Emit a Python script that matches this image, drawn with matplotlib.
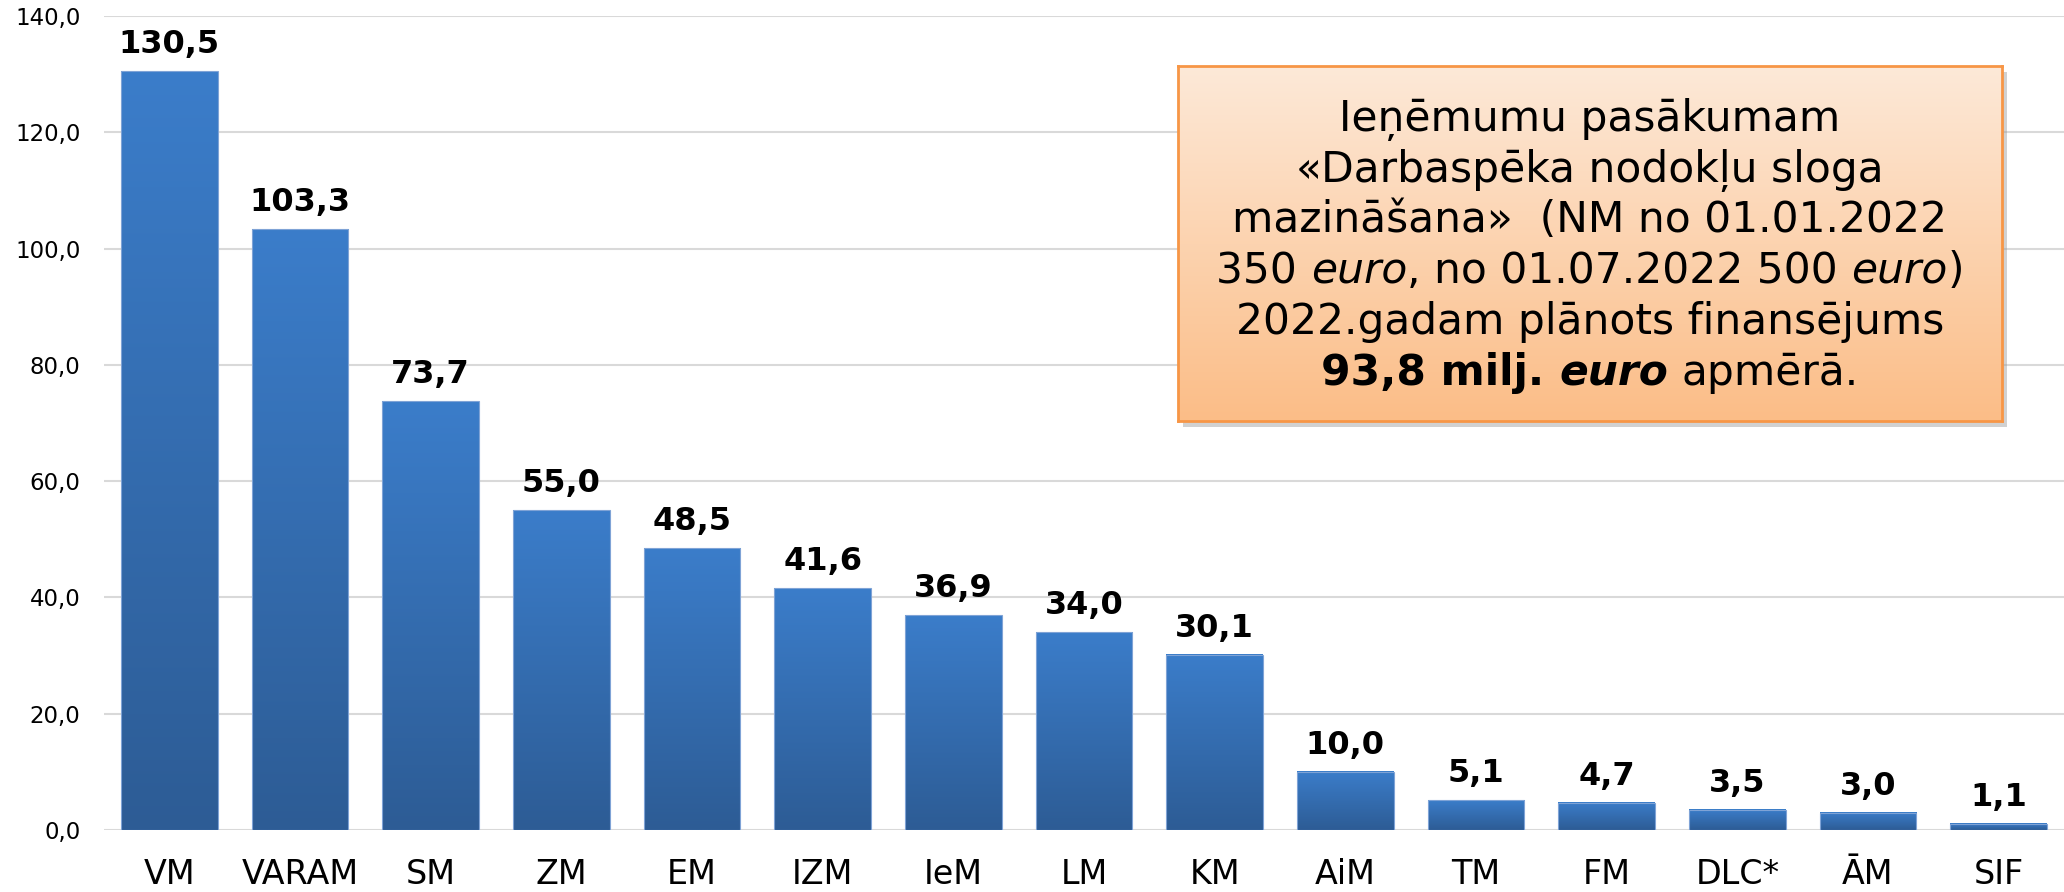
import matplotlib.pyplot as plt
import numpy as np
from matplotlib.colors import LinearSegmentedColormap
from matplotlib.patches import Rectangle

labels = ['VM', 'VARAM', 'SM', 'ZM', 'EM', 'IZM', 'IeM', 'LM', 'KM',
          'AiM', 'TM', 'FM', 'DLC*', 'ĀM', 'SIF']
values = [130.5, 103.3, 73.7, 55.0, 48.5, 41.6, 36.9, 34.0, 30.1,
          10.0, 5.1, 4.7, 3.5, 3.0, 1.1]
yticks = [0, 20, 40, 60, 80, 100, 120, 140]

# text box lines: (text, weight, style) pieces
box_lines = [
    [('Ieņēmumu pasākumam', 'normal', 'normal')],
    [('«Darbaspēka nodokļu sloga', 'normal', 'normal')],
    [('mazināšana»  (NM no 01.01.2022', 'normal', 'normal')],
    [('350 ', 'normal', 'normal'), ('euro', 'normal', 'italic'),
     (', no 01.07.2022 500 ', 'normal', 'normal'), ('euro', 'normal', 'italic'),
     (')', 'normal', 'normal')],
    [('2022.gadam plānots finansējums', 'normal', 'normal')],
    [('93,8 milj. ', 'bold', 'normal'), ('euro', 'bold', 'italic'),
     (' apmērā.', 'normal', 'normal')],
]


def fmt(v):
    return f'{v:.1f}'.replace('.', ',')


W, H = 2064, 892
fig = plt.figure(figsize=(W / 100, H / 100), dpi=100)
ax = fig.add_axes([104 / W, 1 - 830 / H, 1 - 104 / W, (830 - 16) / H])

x = np.arange(len(values))
bars = ax.bar(x, values, width=0.74, color='none', edgecolor='#7fa3d6',
              linewidth=0.8, zorder=3)
grad = np.linspace(0, 1, 256).reshape(-1, 1)
bcmap = LinearSegmentedColormap.from_list('bl', ['#2d5c95', '#3b7dca'])
for b in bars:
    ax.imshow(grad, extent=[b.get_x(), b.get_x() + b.get_width(), 0, b.get_height()],
              origin='lower', cmap=bcmap, aspect='auto', zorder=2)

for i, v in enumerate(values):
    ax.annotate(fmt(v), (i, v), xytext=(0, 13), textcoords='offset points',
                ha='center', va='baseline', fontsize=23, fontweight='bold')

ax.set_xlim(-0.5, len(values) - 0.5)
ax.set_ylim(0, 140)
ax.set_yticks(yticks)
ax.set_yticklabels([fmt(t) for t in yticks], fontsize=16.5)
ax.set_xticks(x)
ax.set_xticklabels(labels, fontsize=24)
ax.tick_params(axis='y', length=0, pad=17)
ax.tick_params(axis='x', length=0, pad=20)
ax.yaxis.grid(True, color='#d9d9d9', linewidth=1.5)
ax.set_axisbelow(True)
for s in ax.spines.values():
    s.set_visible(False)

# orange info box
bx0, by0, bx1, by1 = 1178, 66, 2002, 421
shadow = Rectangle(((bx0 + 5) / W, 1 - (by1 + 6) / H), (bx1 - bx0) / W, (by1 - by0) / H,
                   transform=fig.transFigure, facecolor='#9a9a9a', alpha=0.45,
                   edgecolor='none', zorder=4)
fig.patches.append(shadow)
bax = fig.add_axes([bx0 / W, 1 - by1 / H, (bx1 - bx0) / W, (by1 - by0) / H])
bax.set_zorder(5)
ocmap = LinearSegmentedColormap.from_list('or', ['#fbbd87', '#fde9d8'])
bax.imshow(grad, extent=[0, 1, 0, 1], origin='lower', cmap=ocmap, aspect='auto')
bax.set_xticks([])
bax.set_yticks([])
for s in bax.spines.values():
    s.set_color('#f79646')
    s.set_linewidth(2)

r = fig.canvas.get_renderer()


def seg_width(s, w, st, size):
    t1 = fig.text(0, 0, '|' + s + '|', fontsize=size, fontweight=w, fontstyle=st)
    t2 = fig.text(0, 0, '||', fontsize=size, fontweight=w, fontstyle=st)
    wd = t1.get_window_extent(r).width - t2.get_window_extent(r).width
    t1.remove()
    t2.remove()
    return wd


size = 30.5
cx = (bx0 + bx1) / 2
baselines = [131, 182, 232, 283, 334, 385]
for yb, parts in zip(baselines, box_lines):
    widths = [seg_width(s, w, st, size) for s, w, st in parts]
    xp = cx - sum(widths) / 2
    for (s, w, st), wd in zip(parts, widths):
        lead = len(s) - len(s.lstrip(' '))
        off = seg_width(' ' * lead, w, st, size) if lead else 0
        t = fig.text((xp + off) / W, 1 - yb / H, s.lstrip(' '), fontsize=size,
                     fontweight=w, fontstyle=st, ha='left', va='baseline')
        t.set_zorder(6)
        xp += wd

fig.savefig('out.png', dpi=100)
